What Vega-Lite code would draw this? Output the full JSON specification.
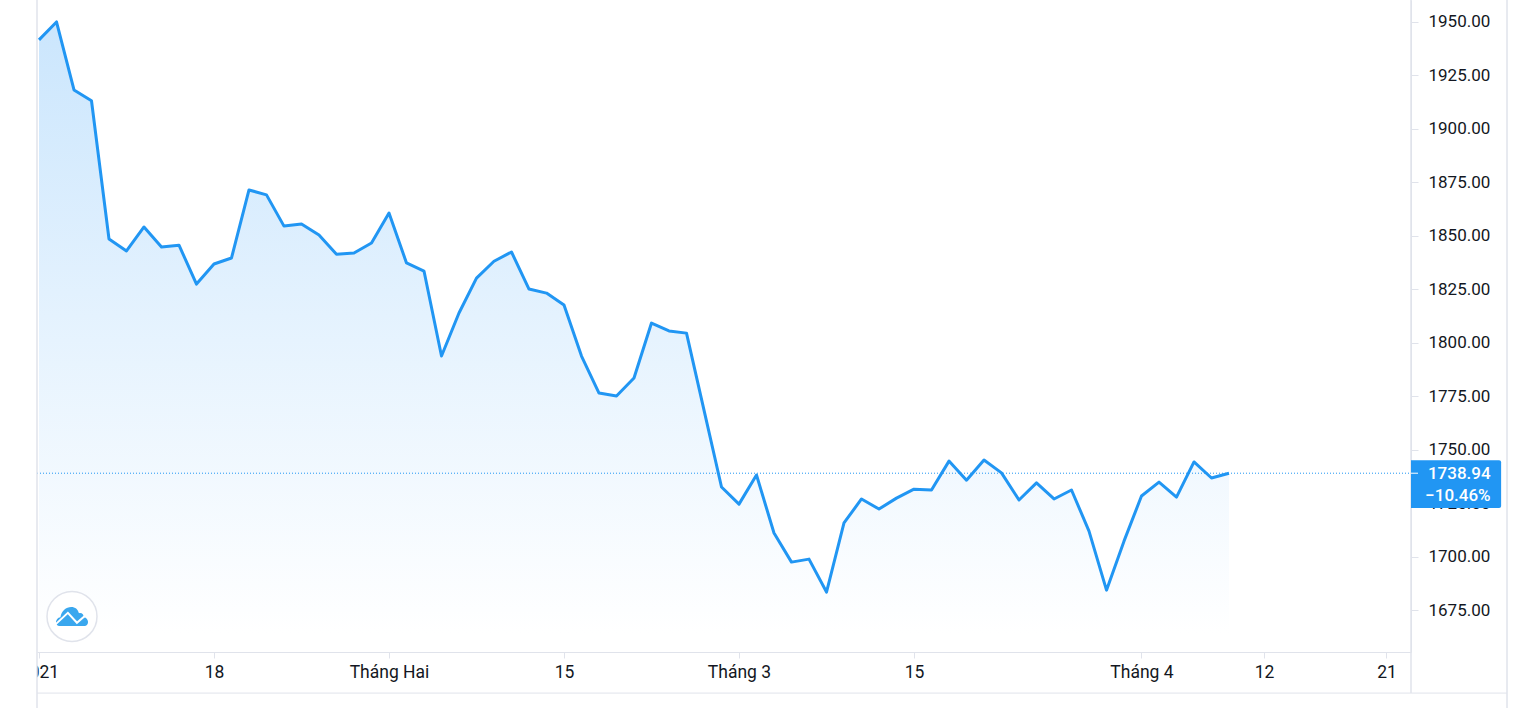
{"$schema":"https://vega.github.io/schema/vega-lite/v6.json","width":1374,"height":652,"autosize":{"type":"none"},"padding":{"left":37,"top":0,"right":113,"bottom":56},"background":"white","config":{"view":{"stroke":null},"font":"Roboto"},
"datasets":{"series":[{"x":0,"y":1941.4},{"x":1,"y":1949.8},{"x":2,"y":1918},{"x":3,"y":1913},{"x":4,"y":1848.4},{"x":5,"y":1842.8},{"x":6,"y":1854},{"x":7,"y":1844.6},{"x":8,"y":1845.5},{"x":9,"y":1827.3},{"x":10,"y":1836.7},{"x":11,"y":1839.5},{"x":12,"y":1871.3},{"x":13,"y":1869},{"x":14,"y":1854.4},{"x":15,"y":1855.4},{"x":16,"y":1850.2},{"x":17,"y":1841.3},{"x":18,"y":1841.8},{"x":19,"y":1846.5},{"x":20,"y":1860.5},{"x":21,"y":1837.2},{"x":22,"y":1833.4},{"x":23,"y":1793.7},{"x":24,"y":1813.8},{"x":25,"y":1830.1},{"x":26,"y":1838},{"x":27,"y":1842.3},{"x":28,"y":1825},{"x":29,"y":1823.1},{"x":30,"y":1817.5},{"x":31,"y":1793.7},{"x":32,"y":1776.4},{"x":33,"y":1775},{"x":34,"y":1783.4},{"x":35,"y":1809.1},{"x":36,"y":1805.4},{"x":37,"y":1804.4},{"x":38,"y":1768.4},{"x":39,"y":1732.5},{"x":40,"y":1724.5},{"x":41,"y":1738.1},{"x":42,"y":1711},{"x":43,"y":1697.4},{"x":44,"y":1698.8},{"x":45,"y":1683.4},{"x":46,"y":1715.7},{"x":47,"y":1726.9},{"x":48,"y":1722.2},{"x":49,"y":1727.3},{"x":50,"y":1731.5},{"x":51,"y":1731.1},{"x":52,"y":1744.6},{"x":53,"y":1735.7},{"x":54,"y":1745.1},{"x":55,"y":1739.1},{"x":56,"y":1726.4},{"x":57,"y":1734.4},{"x":58,"y":1726.9},{"x":59,"y":1731.1},{"x":60,"y":1711.9},{"x":61,"y":1684.3},{"x":62,"y":1707.2},{"x":63,"y":1728.3},{"x":64,"y":1734.8},{"x":65,"y":1727.8},{"x":66,"y":1744.2},{"x":67,"y":1736.7},{"x":68,"y":1738.94}],
"hframe":[{"x":-0.114,"x2":83.886,"y":1636.2}],
"priceLine":[{"x":-0.114,"x2":78.4,"y":1738.94}],
"vframe":[{"x":-0.114,"y":1960.05,"y2":1629.2},{"x":78.4,"y":1960.05,"y2":1636.2},{"x":83.886,"y":1960.05,"y2":1629.2}],
"badge":[{"x":78.4,"x2":83.55,"y":1745,"y2":1722.66}],
"mask":[{"x":-2.2,"x2":-0.114,"y":1655.1,"y2":1636.4}],
"badgeText":[{"x":82.95,"y":1738.5,"t":"1738.94"},{"x":82.95,"y":1728.2,"t":"−10.46%"}],
"lastTick":[{"x":78.4,"x2":78.8,"y":1738.94}],
"logo":[{"x":1.886,"y":1672}]},
"encoding":{"x":{"field":"x","type":"quantitative","title":null,"scale":{"domain":[-0.114,78.4],"nice":false,"zero":false},"axis":{"values":[0,10,20,30,40,50,63,70,77],"labelExpr":"datum.value==0?'2021':datum.value==10?'18':datum.value==20?'Tháng Hai':datum.value==30?'15':datum.value==40?'Tháng 3':datum.value==50?'15':datum.value==63?'Tháng 4':datum.value==70?'12':'21'","grid":false,"domainColor":"#e0e3eb","tickColor":"#e0e3eb","tickSize":6,"labelColor":"#131722","labelFont":"Roboto","labelFontSize":17.5,"labelPadding":5,"labelFlush":false,"labelOverlap":false,"labelBound":false}},
"y":{"field":"y","type":"quantitative","title":null,"scale":{"domain":[1655.4,1960.05],"nice":false,"zero":false},"axis":{"orient":"right","values":[1675,1700,1725,1750,1775,1800,1825,1850,1875,1900,1925,1950],"format":".2f","grid":false,"domainColor":"#e0e3eb","tickColor":"#e0e3eb","tickSize":7,"labelColor":"#131722","labelFont":"Roboto","labelFontSize":17,"labelPadding":10}}},
"layer":[
{"data":{"name":"series"},"mark":{"type":"area","color":{"gradient":"linear","x1":0,"y1":0,"x2":0,"y2":1,"stops":[{"offset":0,"color":"#cbe6fd"},{"offset":0.97,"color":"#ffffff"}]}},"encoding":{"y2":{"datum":1655.4}}},
{"data":{"name":"priceLine"},"mark":{"type":"rule","color":"#2196f3","strokeDash":[1,2],"strokeWidth":1},"encoding":{"x2":{"field":"x2"}}},
{"data":{"name":"series"},"mark":{"type":"line","color":"#2196f3","strokeWidth":3,"strokeJoin":"round"}},
{"data":{"name":"mask"},"mark":{"type":"rect","color":"white","clip":false},"encoding":{"x2":{"field":"x2"},"y2":{"field":"y2"}}},
{"data":{"name":"hframe"},"mark":{"type":"rule","color":"#e0e3eb","strokeWidth":1,"clip":false},"encoding":{"x2":{"field":"x2"}}},
{"data":{"name":"vframe"},"mark":{"type":"rule","color":"#e0e3eb","strokeWidth":1.5,"clip":false},"encoding":{"y2":{"field":"y2"}}},
{"data":{"name":"badge"},"mark":{"type":"rect","color":"#2196f3","clip":false,"cornerRadiusTopRight":2,"cornerRadiusBottomRight":2},"encoding":{"x2":{"field":"x2"},"y2":{"field":"y2"}}},
{"data":{"name":"lastTick"},"mark":{"type":"rule","color":"white","strokeWidth":1,"clip":false},"encoding":{"x2":{"field":"x2"}}},
{"data":{"name":"badgeText"},"mark":{"type":"text","color":"white","font":"Roboto","fontSize":17,"fontWeight":500,"align":"right","baseline":"middle","clip":false},"encoding":{"text":{"field":"t","type":"nominal"}}},
{"data":{"name":"logo"},"mark":{"type":"point","shape":"circle","filled":true,"fill":"white","stroke":"#e0e3eb","strokeWidth":1.5,"size":2500,"opacity":1}},
{"data":{"name":"logo"},"mark":{"type":"point","shape":"M -0.75 0.58 C -1.05 0.58 -1.05 0.1 -0.7 0.05 C -0.65 -0.35 -0.35 -0.58 -0.05 -0.58 C 0.2 -0.58 0.35 -0.45 0.42 -0.2 C 0.6 -0.25 0.72 -0.1 0.72 0.05 C 1.05 0.1 1.05 0.58 0.75 0.58 Z","filled":true,"fill":"#3aa7ee","strokeWidth":0,"size":1089,"opacity":1}},
{"data":{"name":"logo"},"mark":{"type":"point","shape":"M -1 0.48 L -0.25 -0.22 L 0.3 0.38 L 1 -0.22","filled":false,"fill":null,"stroke":"white","strokeWidth":2,"size":1089,"opacity":1}}
]}
